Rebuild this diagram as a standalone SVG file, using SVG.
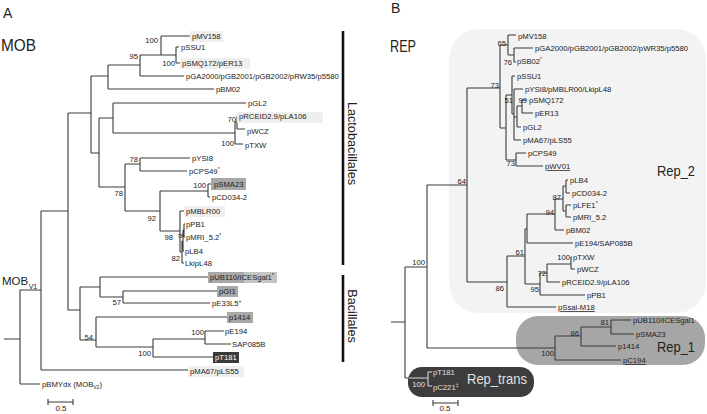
<svg xmlns="http://www.w3.org/2000/svg" width="707" height="414" viewBox="0 0 707 414">
<style>
text{font-family:"Liberation Sans",Arial,sans-serif;fill:#222}
.t{font-size:7.7px}
.b{font-size:7.7px;text-anchor:end}
.lt{fill:#e0e0e0}
.u{text-decoration:underline}
.big{font-size:16px}
.ln{fill:none;stroke:#3a3a3a;stroke-width:1.1}
.lnl{fill:none;stroke:#d8d8d8;stroke-width:1.1}
.hl{fill:#efefef}
.hg{fill:#a8a8a8}
</style>
<rect width="707" height="414" fill="#fff"/>

<!-- panel letters and titles -->
<g id="title-A"><text x="3" y="18" font-size="14">A</text></g>
<g id="title-MOB"><text x="1" y="51" class="big" textLength="35" lengthAdjust="spacingAndGlyphs">MOB</text></g>
<g id="title-B"><text x="391" y="13" font-size="14">B</text></g>
<g id="title-REP"><text x="390" y="52" class="big" textLength="26" lengthAdjust="spacingAndGlyphs">REP</text></g>

<!-- group backgrounds (panel B) -->
<g id="clade-Rep_2"><rect x="449" y="29" width="257" height="284" rx="30" fill="#f3f3f3"/><text x="657" y="176" font-size="15" textLength="38" lengthAdjust="spacingAndGlyphs">Rep_2</text></g>
<g id="clade-Rep_1"><rect x="516" y="316" width="189" height="49" rx="22" fill="#a6a6a6"/><text x="657" y="352" font-size="15" textLength="38" lengthAdjust="spacingAndGlyphs">Rep_1</text></g>
<g id="clade-Rep_trans"><rect x="408" y="367" width="126" height="30" rx="14" fill="#3d3d3d"/><text x="467" y="384" font-size="15" class="lt" textLength="60" lengthAdjust="spacingAndGlyphs">Rep_trans</text></g>

<!-- connectors -->
<g id="connectors">
<path class="ln" d="M4 339H20M20 290V384M20 384H40M20 290H41M41 211V370M41 370H188M41 211H68M68 113V310M68 113H91M91 76V153M91 76H108M108 65V89M108 89H214M108 65H140M140 55V76M140 76H184M140 55H176M161 36V55M161 36H190M176 47V63M176 47H179M176 63H180M91 153H99M99 118V187M99 118H113M113 103V133M113 103H246M113 133H235M235 122V144M235 122H237M237 116V129M237 116H239M237 129H245M235 144H243M99 187H125M125 164V211M125 164H140M140 158V171M140 158H190M140 171H187M125 211H160M160 191V231M160 191H208M208 184V197M208 184H211M208 197H210M160 231H180M180 211V252M180 211H184M180 252H182M182 241V263M182 263H184M182 241H183M183 230V251M183 251H184M183 230H184M184 224V237M184 224H185M184 237H185M68 310H80M80 287V340M80 287H100M100 277V297M100 277H208M100 297H123M123 291V303M123 291H217M123 303H210M80 340H96M96 317V347M96 317H227M96 347H153M153 339V357M153 339H205M205 331V344M205 331H224M205 344H231M153 357H213"/>
<path class="ln" d="M48 402H73M48 399V405M73 399V405"/>
<path d="M343 31V265M343 275V362" stroke="#111" stroke-width="2.6" fill="none"/>
<path class="ln" d="M391 322H405M405 267V378M405 378H409M405 267H427M427 185V348M427 348H555M555 336V360M555 360H621M555 336H581M581 327V346M581 346H616M581 327H611M611 320V334M611 320H631M611 334H634M427 185H467M467 88V282M467 88H500M500 45V128M500 45H508M508 35V55M508 35H516M508 55H514M514 48V62M514 48H533M514 62H516M500 128H506M506 95V160M506 95H512M512 76V114M512 76H515M512 114H514M514 89V140M514 89H523M514 140H521M514 117H517M517 106V127M517 127H521M517 106H522M522 100V113M522 100H526M522 113H533M506 160H516M516 153V166M516 153H526M516 166H543M467 282H507M507 256V307M507 307H556M507 256H525M525 229V284M525 229H527M527 214V243M527 243H573M527 214H555M555 199V230M555 230H564M555 199H563M563 186V211M563 186H566M566 180V193M566 180H568M566 193H570M563 211H566M566 205V217M566 205H571M566 217H571M525 284H540M540 273V295M540 295H585M540 273H547M547 264V282M547 282H560M547 264H571M571 257V269M571 257H572M571 269H575"/>
<path class="lnl" d="M409 378H428M428 372V386M428 372H432M428 386H432"/>
<path class="ln" d="M433 403H458M433 400V406M458 400V406"/>
</g>

<!-- panel A bootstrap values -->
<g id="support-A">
<text class="b" x="158" y="43">100</text>
<text class="b" x="175" y="66">100</text>
<text class="b" x="138" y="59">95</text>
<text class="b" x="236" y="122">70</text>
<text class="b" x="234" y="146">100</text>
<text class="b" x="138" y="162">78</text>
<text class="b" x="123" y="196">78</text>
<text class="b" x="156" y="221">92</text>
<text class="b" x="206" y="188">100</text>
<text class="b" x="173" y="240">98</text>
<text x="177.5" y="238" font-size="5">78</text>
<text class="b" x="180" y="261">82</text>
<text class="b" x="121" y="305">57</text>
<text class="b" x="93" y="340">54</text>
<text class="b" x="151" y="356">100</text>
<text class="b" x="204" y="335">100</text>
</g>

<!-- panel A leaves -->
<g id="A-pMV158"><rect class="hl" x="190" y="31" width="33" height="11"/><text class="t" x="192" y="39">pMV158</text></g>
<g id="A-pSSU1"><text class="t" x="181" y="50">pSSU1</text></g>
<g id="A-pSMQ172"><rect class="hl" x="180" y="58" width="70" height="11"/><text class="t" x="182" y="66">pSMQ172/pER13</text></g>
<g id="A-pGA2000"><text class="t" x="186" y="79">pGA2000/pGB2001/pGB2002/pRW35/p5580</text></g>
<g id="A-pBM02"><text class="t" x="216" y="92">pBM02</text></g>
<g id="A-pGL2"><text class="t" x="248" y="106">pGL2</text></g>
<g id="A-pRCEID"><rect class="hl" x="237" y="112" width="86" height="11"/><text class="t" x="239" y="119">pRCEID2.9/pLA106</text></g>
<g id="A-pWCZ"><text class="t" x="247" y="134">pWCZ</text></g>
<g id="A-pTXW"><text class="t" x="245" y="148">pTXW</text></g>
<g id="A-pYSI8"><text class="t" x="192" y="161">pYSI8</text></g>
<g id="A-pCPS49"><text class="t" x="189" y="174">pCPS49<tspan font-size="5" dy="-3">*</tspan></text></g>
<g id="A-pSMA23"><rect class="hg" x="211" y="178" width="35" height="12"/><text class="t" x="214" y="187">pSMA23</text></g>
<g id="A-pCD034-2"><text class="t" x="212" y="200">pCD034-2</text></g>
<g id="A-pMBLR00"><rect class="hl" x="184" y="206" width="41" height="11"/><text class="t" x="186" y="214">pMBLR00</text></g>
<g id="A-pPB1"><text class="t" x="186" y="227">pPB1</text></g>
<g id="A-pMRI"><text class="t" x="186" y="240">pMRI_5.2<tspan font-size="5" dy="-3">*</tspan></text></g>
<g id="A-pLB4"><text class="t" x="185" y="254">pLB4</text></g>
<g id="A-LkipL48"><text class="t" x="185" y="266">LkipL48</text></g>
<g id="A-pUB110"><rect class="hg" x="208" y="272" width="36" height="11"/><rect fill="#c4c4c4" x="244" y="272" width="33" height="11"/><text class="t" x="210" y="280">pUB110/ICESgal1<tspan font-size="5" dy="-3">*</tspan></text></g>
<g id="A-pGI1"><rect class="hg" x="217" y="286" width="21" height="11"/><text class="t" x="219" y="294">pGI1</text></g>
<g id="A-pE33L5"><text class="t" x="212" y="306">pE33L5<tspan font-size="5" dy="-3">+</tspan></text></g>
<g id="A-p1414"><rect class="hg" x="227" y="312" width="26" height="11"/><text class="t" x="229" y="320">p1414</text></g>
<g id="A-pE194"><text class="t" x="225" y="334">pE194</text></g>
<g id="A-SAP085B"><text class="t" x="232" y="347">SAP085B</text></g>
<g id="A-pT181"><rect fill="#3a3a3a" x="213" y="352" width="26" height="11"/><text class="t" x="215" y="360" style="fill:#fff">pT181</text></g>
<g id="A-pMA67"><rect class="hl" x="188" y="366" width="56" height="11"/><text class="t" x="190" y="374">pMA67/pLS55</text></g>
<g id="A-pBMYdx"><text class="t" x="42" y="387">pBMYdx (MOB<tspan font-size="5" dy="1.5">V2</tspan><tspan dy="-1.5">)</tspan></text></g>
<g id="A-MOBV1"><text x="2" y="285" font-size="11.5">MOB<tspan font-size="7" dy="4" dx="0.5">V1</tspan></text></g>
<g id="A-scale"><text x="61" y="411" font-size="8" text-anchor="middle">0.5</text></g>
<g id="A-Lactobacillales"><text transform="translate(348,143.5) rotate(90)" font-size="12.7" text-anchor="middle">Lactobacillales</text></g>
<g id="A-Bacillales"><text transform="translate(348,316) rotate(90)" font-size="12.7" text-anchor="middle">Bacillales</text></g>

<!-- panel B bootstrap values -->
<g id="support-B">
<text class="b" x="506" y="46">65</text>
<text class="b" x="512" y="65">76</text>
<text class="b" x="499" y="88">73</text>
<text class="b" x="513" y="103">51</text>
<text class="b" x="527" y="103">99</text>
<text class="b" x="515" y="166">73</text>
<text class="b" x="466" y="184">64</text>
<text class="b" x="425" y="265">100</text>
<text class="b" x="561" y="200">87</text>
<text class="b" x="554" y="215">94</text>
<text class="b" x="524" y="255">61</text>
<text class="b" x="504" y="291">86</text>
<text class="b" x="539" y="292">95</text>
<text class="b" x="546" y="276">72</text>
<text class="b" x="570" y="260">100</text>
<text class="b" x="554" y="356">100</text>
<text class="b" x="579" y="336">86</text>
<text class="b" x="609" y="325">81</text>
<text class="b lt" x="425" y="387">100</text>
</g>

<!-- panel B leaves -->
<g id="B-pMV158"><text class="t" x="518" y="39">pMV158</text></g>
<g id="B-pGA2000"><text class="t" x="535" y="51">pGA2000/pGB2001/pGB2002/pWR35/p5580</text></g>
<g id="B-pSB02"><text class="t" x="517" y="64">pSB02<tspan font-size="5" dy="-3">*</tspan></text></g>
<g id="B-pSSU1"><text class="t" x="517" y="79">pSSU1</text></g>
<g id="B-pYSI8"><text class="t" x="525" y="92">pYSI8/pMBLR00/LkipL48</text></g>
<g id="B-pSMQ172"><text class="t" x="529" y="103">pSMQ172</text></g>
<g id="B-pER13"><text class="t" x="535" y="116">pER13</text></g>
<g id="B-pGL2"><text class="t" x="523" y="130">pGL2</text></g>
<g id="B-pMA67"><text class="t" x="523" y="143">pMA67/pLS55</text></g>
<g id="B-pCPS49"><text class="t" x="528" y="156">pCPS49</text></g>
<g id="B-pWV01"><text class="t u" x="545" y="169">pWV01</text></g>
<g id="B-pLB4"><text class="t" x="570" y="183">pLB4</text></g>
<g id="B-pCD034-2"><text class="t" x="572" y="196">pCD034-2</text></g>
<g id="B-pLFE1"><text class="t" x="573" y="208">pLFE1<tspan font-size="5" dy="-3">*</tspan></text></g>
<g id="B-pMRI"><text class="t" x="573" y="220">pMRI_5.2</text></g>
<g id="B-pBM02"><text class="t" x="566" y="233">pBM02</text></g>
<g id="B-pE194"><text class="t" x="575" y="246">pE194/SAP085B</text></g>
<g id="B-pTXW"><text class="t" x="573" y="260">pTXW</text></g>
<g id="B-pWCZ"><text class="t" x="577" y="272">pWCZ</text></g>
<g id="B-pRCEID"><text class="t" x="562" y="285">pRCEID2.9/pLA106</text></g>
<g id="B-pPB1"><text class="t" x="587" y="298">pPB1</text></g>
<g id="B-pSsal"><text class="t u" x="558" y="310">pSsal-M18</text></g>
<g id="B-pUB110"><text class="t" x="633" y="323">pUB110/ICESgal1</text></g>
<g id="B-pSMA23"><text class="t" x="636" y="337">pSMA23</text></g>
<g id="B-p1414"><text class="t" x="618" y="349">p1414</text></g>
<g id="B-pC194"><text class="t u" x="623" y="363">pC194</text></g>
<g id="B-pT181"><text class="t lt" x="433" y="375">pT181</text></g>
<g id="B-pC221"><text class="t lt" x="433" y="390">pC221<tspan font-size="5" dy="-3">‡</tspan></text></g>
<g id="B-scale"><text x="445" y="411" font-size="8" text-anchor="middle">0.5</text></g>
</svg>
